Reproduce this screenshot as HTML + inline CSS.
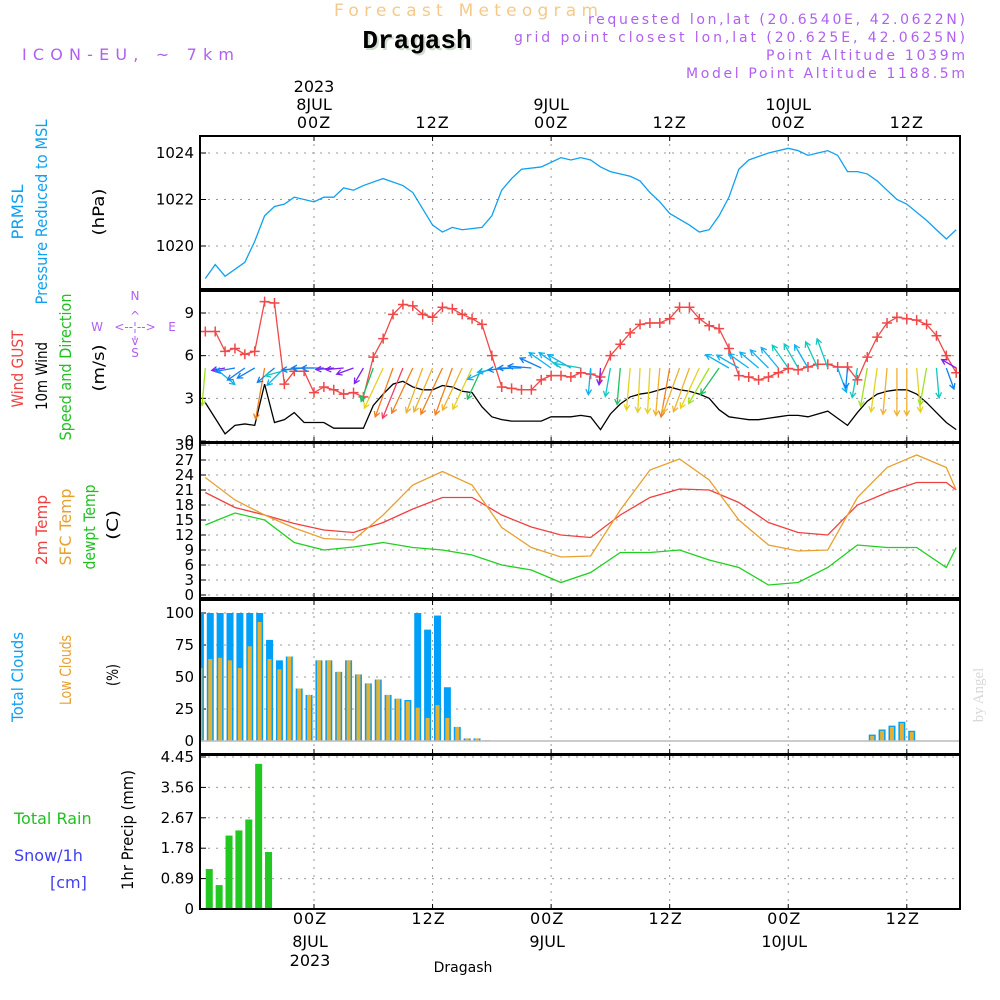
<!DOCTYPE html>
<html><head><meta charset="utf-8">
<style>
html,body{margin:0;padding:0;background:#fff;}
svg{display:block;font-family:"DejaVu Sans","Liberation Sans",sans-serif;}
.t{font-size:15px;}
</style></head>
<body>
<svg id="chart" width="1000" height="1000" viewBox="0 0 1000 1000">
<defs><clipPath id="plotclip"><rect x="200" y="130" width="760" height="790"/></clipPath></defs>
<text x="334" y="16" textLength="264" lengthAdjust="spacing" font-size="17" fill="#f5c98a">Forecast Meteogram</text>
<text x="417" y="48" text-anchor="middle" font-size="26" font-weight="bold" font-family="Liberation Mono, monospace" fill="#000" style="text-shadow:2px 2px 0 #cfdccf">Dragash</text>
<text x="22" y="60" textLength="212" lengthAdjust="spacing" font-size="16" fill="#b060f0">ICON-EU, ~ 7km</text>
<g font-size="14" fill="#b060f0" lengthAdjust="spacing">
<text x="588" y="24" textLength="377" lengthAdjust="spacing">requested lon,lat (20.6540E, 42.0622N)</text>
<text x="514" y="42" textLength="451" lengthAdjust="spacing">grid point closest lon,lat (20.625E, 42.0625N)</text>
<text x="766" y="60" textLength="199" lengthAdjust="spacing">Point Altitude 1039m</text>
<text x="686" y="78" textLength="279" lengthAdjust="spacing">Model Point Altitude 1188.5m</text>
</g>
<g id="grid"></g>
<g id="marks" clip-path="url(#plotclip)"></g>
<g id="frames"></g>
<g id="labels" class="t"></g>
<text transform="translate(983,695) rotate(-90)" text-anchor="middle" font-size="15" font-family="Liberation Serif, serif" fill="#d8d8d8">by Angel</text>
</svg>
<script>
// ---- data ----
const pHours = [-11,-10,-9,-7,-6,-5,-4,-3,-2,0,1,2,3,4,5,7,9,10,11,12,13,14,15,17,18,19,20,21,23,25,26,27,28,29,30,32,33,34,35,36,38,39,40,41,42,43,44,46,48,49,50,51,52,53,54,55,56,57,58,59,60,62,63,64,65];
const pressure = [1018.6,1019.2,1018.7,1019.3,1020.2,1021.3,1021.7,1021.8,1022.1,1021.9,1022.1,1022.1,1022.5,1022.4,1022.6,1022.9,1022.6,1022.3,1021.6,1020.9,1020.6,1020.8,1020.7,1020.8,1021.3,1022.4,1022.9,1023.3,1023.4,1023.8,1023.7,1023.8,1023.7,1023.4,1023.2,1023.0,1022.8,1022.3,1021.9,1021.4,1020.9,1020.6,1020.7,1021.3,1022.1,1023.3,1023.7,1024.0,1024.2,1024.1,1023.9,1024.0,1024.1,1023.9,1023.2,1023.2,1023.1,1022.8,1022.4,1022.0,1021.8,1021.1,1020.7,1020.3,1020.7];
const hours3 = [-11,-8,-5,-2,1,4,7,10,13,16,19,22,25,28,31,34,37,40,43,46,49,52,55,58,61,64,65];
const temp2m = [20.5,17.5,16,14.3,13,12.5,14.5,17.2,19.5,19.5,16,13.6,12,11.5,16,19.5,21.2,21,18.5,14.5,12.5,12,18,20.5,22.5,22.5,21];
const tempSfc = [23.5,19,16,13.4,11.3,11,16,22,24.7,22,13.5,9.5,7.6,7.8,17,25,27.2,23,15,10,8.8,9,19.5,25.5,28,25.5,21];
const dewpt = [14,16.4,15,10.5,9,9.6,10.5,9.5,9,8,6,5,2.5,4.5,8.5,8.5,9,7,5.5,2,2.5,5.5,10,9.5,9.5,5.5,9.5];
const windStart = -11;
const gust = [7.7,7.7,6.3,6.5,6.1,6.3,9.8,9.7,4.0,4.9,4.9,3.4,3.8,3.6,3.3,3.4,3.1,5.9,7.2,8.9,9.6,9.5,8.9,8.7,9.4,9.3,8.9,8.6,8.2,6.0,3.8,3.7,3.6,3.6,4.3,4.6,4.6,4.5,4.8,4.7,4.5,6.0,6.8,7.6,8.2,8.3,8.3,8.6,9.4,9.4,8.6,8.1,7.9,6.5,4.6,4.5,4.3,4.5,4.8,5.1,5.0,5.2,5.4,5.4,5.2,5.2,4.3,5.9,7.3,8.3,8.7,8.6,8.5,8.2,7.4,6.0,4.8];
const wspd = [2.7,1.6,0.5,1.1,1.2,1.1,4.0,1.3,1.5,2.0,1.3,1.3,1.3,0.9,0.9,0.9,0.9,2.5,3.3,4.0,4.2,3.8,3.6,3.6,3.9,3.8,3.5,3.4,2.4,1.7,1.5,1.4,1.4,1.4,1.4,1.7,1.7,1.7,1.8,1.7,0.8,1.9,2.6,3.1,3.3,3.4,3.6,3.8,3.6,3.5,3.3,3.0,2.2,1.7,1.6,1.5,1.5,1.6,1.7,1.8,1.8,1.7,1.9,2.1,1.6,1.1,2.0,2.8,3.3,3.5,3.6,3.6,3.3,2.7,2.0,1.3,0.8];
const wdirTo = [185,130,260,260,235,240,190,230,225,255,265,270,270,265,265,250,210,200,205,200,202,205,200,203,205,200,205,205,205,245,260,265,270,275,295,305,305,300,280,185,185,190,185,185,183,183,185,190,200,200,205,210,215,300,300,305,310,315,320,325,330,330,335,340,160,185,190,190,188,185,180,180,175,190,175,160,300];
const cloudStart = -12;
const cloudTotal = [100,100,100,100,100,100,100,79,63,66,41,36,63,63,54,63,52,45,48,36,33,32,100,87,98,42,11,2,2,0.5];
const cloudLow = [57,64,65,63,57,74,93,64,56,66,41,36,63,63,54,63,52,45,48,36,33,31,26,18,28,18,11,2,2,0.5];
const cloudLateStart = 56;
const cloudTotalLate = [5,9,12,15,8];
const cloudLowLate = [4,8,11,14,7];
const rainStart = -11;
const rain = [1.17,0.7,2.15,2.3,2.62,4.25,1.67];
const pTicks = [1020,1022,1024];
const wTicks = [0,3,6,9];
const tTicks = [0,3,6,9,12,15,18,21,24,27,30];
const cTicks = [0,25,50,75,100];
const rTicks = ["0","0.89","1.78","2.67","3.56","4.45"];
const timeTicks = [0,12,24,36,48,60];
const timeLabels = ["00Z","12Z","00Z","12Z","00Z","12Z"];
const dayLabels = ["8JUL","","9JUL","","10JUL",""];

// ---- scales ----
const X0=200,X1=960;
const xs = h => 314 + h*9.88;
const lin = (d0,d1,r0,r1) => v => r0 + (v-d0)*(r1-r0)/(d1-d0);
const yP = lin(1020,1024,246,153);
const yW = lin(0,9,441,313);
const yT = lin(0,30,595,445);
const yC = lin(0,100,741,613);
const yR = lin(0,4.45,909,757);
const panels=[[136,289],[291,442],[443,598],[600,754],[755,909]];
const NS="http://www.w3.org/2000/svg";
function mk(tag,attrs,parent,txt){const e=document.createElementNS(NS,tag);for(const k in attrs)e.setAttribute(k,attrs[k]);if(txt!==undefined)e.textContent=txt;parent.appendChild(e);return e;}
const G=document.getElementById('grid'),M=document.getElementById('marks'),F=document.getElementById('frames'),L=document.getElementById('labels');

timeTicks.forEach(h=>{panels.forEach(p=>{const l=mk('line',{x1:xs(h),x2:xs(h),y1:p[0],y2:p[1],stroke:'#999','stroke-dasharray':'2,6'},G);


mk('line',{x1:xs(h),x2:xs(h),y1:p[0],y2:p[0]+5,stroke:'#000'},G);mk('line',{x1:xs(h),x2:xs(h),y1:p[1]-5,y2:p[1],stroke:'#000'},G);});});
function hgrid(ticks,ys,name){ticks.forEach(t=>{const v=parseFloat(t);const y=ys(v);
const l=mk('line',{x1:X0,x2:X1,y1:y,y2:y,stroke:'#999','stroke-dasharray':'2,6'},G);


mk('line',{x1:X0,x2:X0+6,y1:y,y2:y,stroke:'#000'},G);
const tx=mk('text',{x:194,y:y+5,'text-anchor':'end','font-size':15},L,String(t));

});}
hgrid(pTicks,yP,'pressure');hgrid(wTicks,yW,'wind');hgrid(tTicks,yT,'temp');hgrid(cTicks,yC,'cloud');hgrid(rTicks,yR,'precip');

function line(hs,vals,ys,col,name,w){const pts=vals.map((v,i)=>xs(hs[i])+','+ys(v)).join(' ');
const e=mk('polyline',{points:pts,fill:'none',stroke:col,'stroke-width':w||1.3},M);

}
line(pHours,pressure,yP,'#10a0f0','pressure-line');
line(hours3,temp2m,yT,'#f04040','temp-2m-line');
line(hours3,tempSfc,yT,'#e8a030','temp-sfc-line');
line(hours3,dewpt,yT,'#20d020','dewpoint-line');
line(wspd.map((v,i)=>windStart+i),wspd,yW,'#000','wind-speed-line');
line(gust.map((v,i)=>windStart+i),gust,yW,'#f04848','gust-line');
gust.forEach((v,i)=>{const x=xs(windStart+i),y=yW(v);
const g=mk('path',{d:`M${x-5},${y}H${x+5}M${x},${y-5}V${y+5}`,stroke:'#f04848','stroke-width':1.5},M);

});
function wcol(s){if(s<1)return'#8020f0';if(s<1.45)return'#1080f0';if(s<1.75)return'#10b0f0';if(s<2.2)return'#10c8c0';if(s<2.7)return'#20c060';if(s<3.1)return'#a0e020';if(s<3.45)return'#e8d020';if(s<3.75)return'#f0b030';if(s<4.1)return'#f08020';return'#f04060';}
wdirTo.forEach((d,i)=>{const s=wspd[i];const x=xs(windStart+i),y=368;const Lh=8+11*s;const r=d*Math.PI/180;
const x2=x+Math.sin(r)*Lh,y2=y-Math.cos(r)*Lh;const a=Math.atan2(y2-y,x2-x);const hl=6;
const d1=`M${x},${y}L${x2},${y2}M${x2-hl*Math.cos(a-0.5)},${y2-hl*Math.sin(a-0.5)}L${x2},${y2}L${x2-hl*Math.cos(a+0.5)},${y2-hl*Math.sin(a+0.5)}`;
const e=mk('path',{d:d1,stroke:wcol(s),'stroke-width':1.3,fill:'none'},M);

});
function bars(start,tot,low){tot.forEach((v,i)=>{const cx=xs(start+i+0.5);
const b=mk('rect',{x:cx-3.5,y:yC(v),width:7,height:yC(0)-yC(v),fill:'#00a0f8'},M);


const lv=low[i];if(lv!==undefined){const c=mk('rect',{x:cx-2,y:yC(lv),width:4,height:yC(0)-yC(lv),fill:'#e8b030'},M);

}});}
bars(cloudStart,cloudTotal,cloudLow);
bars(cloudLateStart,cloudTotalLate,cloudLowLate);
mk('line',{x1:X0,x2:X1,y1:yC(0),y2:yC(0),stroke:'#bbb','stroke-width':1.5},M);
rain.forEach((v,i)=>{const cx=xs(rainStart+i+0.5)-1;
const b=mk('rect',{x:cx-3.5,y:yR(v),width:7,height:yR(0)-yR(v),fill:'#20c820'},M);

});
mk('line',{x1:X0,x2:X1,y1:909,y2:909,stroke:'#000','stroke-dasharray':'6,3'},M);
panels.forEach(p=>{const r=mk('rect',{x:X0,y:p[0],width:X1-X0,height:p[1]-p[0],fill:'none',stroke:'#000','stroke-width':2},F);

});
timeTicks.forEach((h,i)=>{const x=xs(h);
const a=mk('text',{x:x,y:128,'text-anchor':'middle','font-size':16,'letter-spacing':1},L,timeLabels[i]);


if(dayLabels[i]){const d=mk('text',{x:x,y:110,'text-anchor':'middle','font-size':16},L,dayLabels[i]);


const d2=mk('text',{x:x-4,y:947,'text-anchor':'middle','font-size':16},L,dayLabels[i]);

}
const b=mk('text',{x:x-4,y:924,'text-anchor':'middle','font-size':16,'letter-spacing':1},L,timeLabels[i]);

});
</script>
<script>
const S=document.getElementById('chart');
function rt(x,y,txt,col,name,len){const e=document.createElementNS("http://www.w3.org/2000/svg",'text');
e.setAttribute('transform',`translate(${x},${y}) rotate(-90)`);e.setAttribute('text-anchor','middle');e.setAttribute('font-size',16);e.setAttribute('fill',col);
if(len){e.setAttribute('textLength',len);e.setAttribute('lengthAdjust','spacingAndGlyphs');}
e.textContent=txt;


S.appendChild(e);}
function ht(x,y,txt,col,name,size,anchor){const e=document.createElementNS("http://www.w3.org/2000/svg",'text');
e.setAttribute('x',x);e.setAttribute('y',y);e.setAttribute('font-size',size||16);e.setAttribute('fill',col);if(anchor)e.setAttribute('text-anchor',anchor);e.textContent=txt;


S.appendChild(e);}
rt(23,212,'PRMSL','#10a0f0','pressure-axis-label',55);
rt(47,212,'Pressure Reduced to MSL','#10a0f0','pressure-axis-title',185);
rt(104,212,'(hPa)','#000','pressure-unit',47);
rt(23,369,'Wind GUST','#f04040','gust-axis-label',77);
rt(47,376,'10m Wind','#000','wind-axis-label',68);
rt(71,367,'Speed and Direction','#20c020','wind-axis-title',147);
rt(104,368,'(m/s)','#000','wind-unit',47);
rt(47,530,'2m Temp','#f04040','temp-2m-label',70);
rt(71,527,'SFC Temp','#e8a030','temp-sfc-label',77);
rt(95,527,'dewpt Temp','#20c020','dewpt-label',85);
rt(118,525,'(C)','#000','temp-unit',30);
rt(23,677,'Total Clouds','#10a0f0','total-cloud-label',90);
rt(71,670,'Low Clouds','#e8a030','low-cloud-label',70);
rt(118,675,'(%)','#000','cloud-unit',22);
rt(133,830,'1hr Precip (mm)','#000','precip-axis-title',120);
ht(14,824,'Total  Rain','#20c020','rain-label',16);
ht(14,861,'Snow/1h','#4040f0','snow-label',16);
ht(50,888,'[cm]','#4040f0','snow-unit',16);
ht(314,92,'2023','#000','top-year-label',16,'middle');
ht(310,966,'2023','#000','bottom-year-label',16,'middle');
ht(463,972,'Dragash','#000','bottom-station-label',14,'middle');
const C=document.createElementNS("http://www.w3.org/2000/svg",'g');C.setAttribute('fill','#b060f0');C.setAttribute('font-size','12');C.setAttribute('text-anchor','middle');


C.innerHTML='<text x="135" y="300">N</text><text x="135" y="320">^</text><text x="135" y="331">&lt;-- --&gt;</text><text x="97" y="331">W</text><text x="172" y="331">E</text><text x="135" y="345">v</text><text x="135" y="357">S</text><line x1="135" y1="322" x2="135" y2="343" stroke="#b060f0" stroke-dasharray="4,3"/>';
S.appendChild(C);
</script>
</body></html>
